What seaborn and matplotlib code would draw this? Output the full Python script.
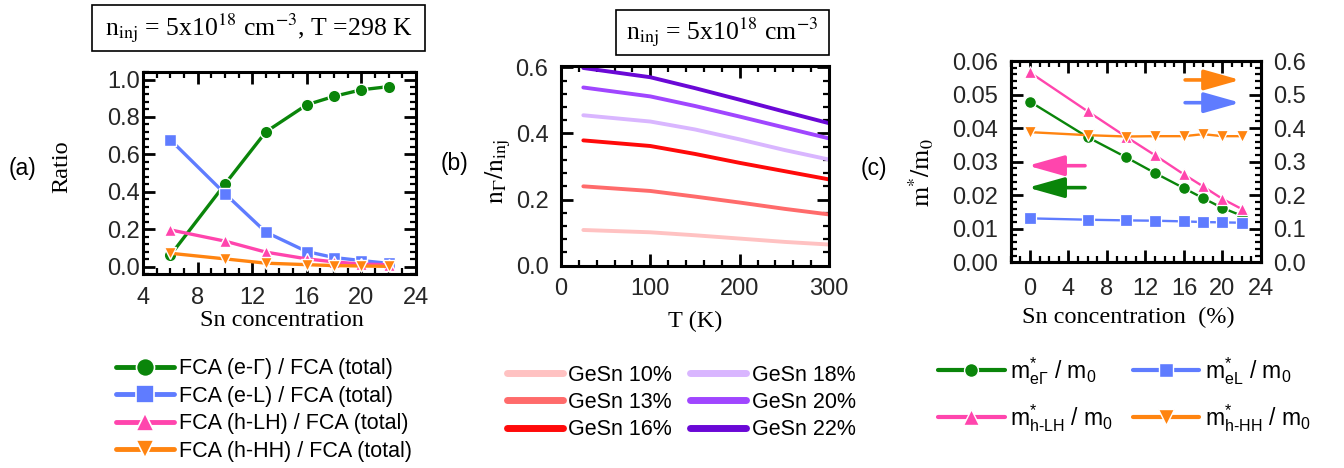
import numpy as np
import pandas as pd
import matplotlib
matplotlib.use("Agg")
import matplotlib.pyplot as plt
from matplotlib.lines import Line2D
from matplotlib.patches import Rectangle
from matplotlib.ticker import MultipleLocator, FormatStrFormatter
import seaborn as sns

# ---------------- data: panel (a) ----------------
sn_a = [6, 10, 13, 16, 18, 20, 22]
fca_eG = [0.060, 0.440, 0.720, 0.865, 0.910, 0.945, 0.962]
fca_eL = [0.678, 0.390, 0.184, 0.080, 0.048, 0.032, 0.017]
fca_hLH = [0.196, 0.136, 0.077, 0.041, 0.025, 0.013, 0.010]
fca_hHH = [0.071, 0.041, 0.018, 0.010, 0.005, 0.003, 0.001]
labels_a = ["FCA (e-Γ) / FCA (total)", "FCA (e-L) / FCA (total)",
            "FCA (h-LH) / FCA (total)", "FCA (h-HH) / FCA (total)"]

# ---------------- data: panel (b) ----------------
temps = [25, 100, 150, 200, 250, 300]
gesn_10 = [0.108, 0.101, 0.092, 0.082, 0.072, 0.064]
gesn_13 = [0.240, 0.226, 0.209, 0.191, 0.172, 0.155]
gesn_16 = [0.379, 0.362, 0.338, 0.311, 0.286, 0.261]
gesn_18 = [0.455, 0.436, 0.412, 0.382, 0.350, 0.321]
gesn_20 = [0.539, 0.512, 0.483, 0.451, 0.418, 0.385]
gesn_22 = [0.598, 0.570, 0.537, 0.502, 0.466, 0.431]
labels_b = ["GeSn 10%", "GeSn 13%", "GeSn 16%", "GeSn 18%", "GeSn 20%", "GeSn 22%"]

# ---------------- data: panel (c) ----------------
sn_c = [0, 6, 10, 13, 16, 18, 20, 22]
m_eG = [0.0479, 0.0373, 0.0313, 0.0266, 0.0221, 0.0191, 0.0162, 0.0139]
m_hLH = [0.0566, 0.0450, 0.0374, 0.0319, 0.0262, 0.0226, 0.0189, 0.0159]
m_eL = [0.131, 0.127, 0.125, 0.124, 0.122, 0.120, 0.119, 0.118]
m_hHH = [0.388, 0.379, 0.375, 0.376, 0.376, 0.382, 0.376, 0.376]
labels_c = [r"m$^{*}_{e\Gamma}$ / m$_{0}$", r"m$^{*}_{h\text{-}LH}$ / m$_{0}$",
            r"m$^{*}_{eL}$ / m$_{0}$", r"m$^{*}_{h\text{-}HH}$ / m$_{0}$"]

# ---------------- style ----------------
sns.set_theme(style="ticks")
plt.rcParams["font.family"] = ["Liberation Sans", "DejaVu Sans"]
plt.rcParams["mathtext.fontset"] = "custom"
plt.rcParams["mathtext.rm"] = "Liberation Sans"
plt.rcParams["mathtext.it"] = "Liberation Sans"
plt.rcParams["mathtext.bf"] = "Liberation Sans:bold"
plt.rcParams["text.color"] = "black"
plt.rcParams["axes.labelcolor"] = "black"
plt.rcParams["axes.edgecolor"] = "black"

GREEN = "#0a850a"
BLUE = "#5f7cff"
PINK = "#ff45ad"
ORANGE = "#ff8410"
B_COLORS = ["#ffc2c2", "#ff6b6b", "#ff0a0a", "#d9b6ff", "#a046ff", "#6a08d6"]

SERIF = "Liberation Serif"
TICK_FS = 17
LAB_FS = 17.5
LEG_FS = 15.5
TICK_COLOR = "black"

fig = plt.figure(figsize=(13.44, 4.68), dpi=100)
ax_a = fig.add_axes([0.1064, 0.4145, 0.2031, 0.4316])
ax_b = fig.add_axes([0.4174, 0.4323, 0.1994, 0.4274])
ax_c = fig.add_axes([0.7520, 0.4395, 0.1862, 0.4301])


def style_ax(ax, xmaj, xmin, ymaj, ymin, ypad=8, xpad=8, right=True):
    ax.xaxis.set_major_locator(MultipleLocator(xmaj))
    ax.xaxis.set_minor_locator(MultipleLocator(xmin))
    ax.yaxis.set_major_locator(MultipleLocator(ymaj))
    ax.yaxis.set_minor_locator(MultipleLocator(ymin))
    ax.tick_params(which="both", direction="in", bottom=True, top=True, left=True,
                   right=right, labelsize=TICK_FS, color=TICK_COLOR)
    ax.tick_params(which="major", length=8.5, width=2)
    ax.tick_params(which="minor", length=4.5, width=1.6)
    ax.tick_params(axis="y", which="major", pad=ypad)
    ax.tick_params(axis="x", which="major", pad=xpad)
    for s in ax.spines.values():
        s.set_linewidth(2.2)
        s.set_color("black")


# ---------------- panel (a) ----------------
series_a = [fca_eG, fca_eL, fca_hLH, fca_hHH]
colors_a = [GREEN, BLUE, PINK, ORANGE]
markers_a = ["o", "s", "^", "v"]
for vals, col, mk in zip(series_a, colors_a, markers_a):
    sns.lineplot(x=sn_a, y=vals, ax=ax_a, color=col, marker=mk, markersize=9,
                 markeredgecolor="white", markeredgewidth=1.0, linewidth=2.4)
ax_a.set_xlim(4, 24)
ax_a.set_ylim(-0.04, 1.04)
style_ax(ax_a, 4, 1, 0.2, 0.04, ypad=2, xpad=9)
ax_a.yaxis.set_major_formatter(FormatStrFormatter("%.1f"))
ax_a.set_xlabel("Sn concentration", fontfamily=SERIF, fontsize=LAB_FS, va="center")
ax_a.xaxis.set_label_coords(0.508, -0.228)
ax_a.set_ylabel("Ratio", fontfamily=SERIF, fontsize=LAB_FS, va="center")
ax_a.yaxis.set_label_coords(-0.297, 0.53)

handles_a = [Line2D([], [], color=c, marker=m, markersize=13, markeredgecolor="white",
                    markeredgewidth=1.2, linewidth=3.5, solid_capstyle="round")
             for c, m in zip(colors_a, markers_a)]
fig.legend(handles_a, labels_a, loc="upper left", bbox_to_anchor=(0.086, 0.234),
           bbox_transform=fig.transFigure, frameon=False, fontsize=LEG_FS,
           handlelength=2.7, handletextpad=0.25, labelspacing=0.3,
           borderpad=0, borderaxespad=0)

# ---------------- panel (b) ----------------
df_b = pd.DataFrame({
    "T": temps * 6,
    "ratio": gesn_10 + gesn_13 + gesn_16 + gesn_18 + gesn_20 + gesn_22,
    "alloy": sum([[lab] * len(temps) for lab in labels_b], []),
})
sns.lineplot(data=df_b, x="T", y="ratio", hue="alloy", hue_order=labels_b,
             palette=dict(zip(labels_b, B_COLORS)), linewidth=2.8, legend=False, ax=ax_b)
ax_b.set_xlim(0, 300)
ax_b.set_ylim(0, 0.605)
style_ax(ax_b, 100, 20, 0.2, 0.04, ypad=9, xpad=9)
ax_b.yaxis.set_major_formatter(FormatStrFormatter("%.1f"))
ax_b.set_xlabel("T (K)", fontfamily=SERIF, fontsize=LAB_FS, va="center")
ax_b.xaxis.set_label_coords(0.50, -0.28)
ax_b.set_ylabel(r"$\mathrm{n_{\Gamma}/n_{inj}}$", fontfamily=SERIF, fontsize=LAB_FS + 1,
                va="center", math_fontfamily="stix")
ax_b.yaxis.set_label_coords(-0.235, 0.47)

handles_b = [Line2D([], [], color=c, linewidth=5, solid_capstyle="round") for c in B_COLORS]
fig.legend(handles_b, labels_b, loc="upper left", bbox_to_anchor=(0.377, 0.221),
           bbox_transform=fig.transFigure, frameon=False, fontsize=LEG_FS, ncol=2,
           handlelength=2.6, handletextpad=0.25, labelspacing=0.3, columnspacing=0.85,
           borderpad=0, borderaxespad=0)

# ---------------- panel (c) ----------------
ax_c2 = ax_c.twinx()
sns.lineplot(x=sn_c, y=m_eG, ax=ax_c, color=GREEN, marker="o", markersize=8.5,
             markeredgecolor="white", markeredgewidth=0.9, linewidth=1.7)
sns.lineplot(x=sn_c, y=m_hLH, ax=ax_c, color=PINK, marker="^", markersize=9,
             markeredgecolor="white", markeredgewidth=0.9, linewidth=1.7)
sns.lineplot(x=sn_c, y=m_eL, ax=ax_c2, color=BLUE, marker="s", markersize=8,
             markeredgecolor="white", markeredgewidth=0.9, linewidth=1.7)
sns.lineplot(x=sn_c, y=m_hHH, ax=ax_c2, color=ORANGE, marker="v", markersize=9,
             markeredgecolor="white", markeredgewidth=0.9, linewidth=1.7)
ax_c.set_xlim(-2, 24)
ax_c.set_ylim(0, 0.06)
ax_c2.set_ylim(0, 0.6)
style_ax(ax_c, 4, 1, 0.01, 0.002, ypad=9, xpad=11, right=False)
ax_c.tick_params(which="both", right=False, labelright=False)
ax_c.yaxis.set_major_formatter(FormatStrFormatter("%.2f"))
ax_c2.yaxis.set_major_locator(MultipleLocator(0.1))
ax_c2.yaxis.set_minor_locator(MultipleLocator(0.02))
ax_c2.tick_params(axis="y", which="both", direction="in", right=True, left=False,
                  labelright=True, labelleft=False, labelsize=TICK_FS, color=TICK_COLOR)
ax_c2.tick_params(axis="y", which="major", length=8.5, width=2, pad=9)
ax_c2.tick_params(axis="y", which="minor", length=4.5, width=1.6)
ax_c2.yaxis.set_major_formatter(FormatStrFormatter("%.1f"))
for s in ax_c2.spines.values():
    s.set_linewidth(2.2)
    s.set_color("black")
ax_c.set_xlabel("Sn concentration  (%)", fontfamily=SERIF, fontsize=LAB_FS, va="center")
ax_c.xaxis.set_label_coords(0.47, -0.272)
ax_c.set_ylabel(r"$\mathrm{m^{*}/m_{0}}$", fontfamily=SERIF, fontsize=LAB_FS + 1,
                va="center", math_fontfamily="stix")
ax_c.yaxis.set_label_coords(-0.356, 0.444)

arrow_specs = [((0.069, 0.480), (0.297, 0.480), PINK),
               ((0.069, 0.371), (0.297, 0.371), GREEN),
               ((0.917, 0.906), (0.697, 0.906), ORANGE),
               ((0.917, 0.793), (0.697, 0.793), BLUE)]
for tip, tail, col in arrow_specs:
    ax_c2.annotate("", xy=tip, xytext=tail, xycoords="axes fraction",
                   textcoords="axes fraction",
                   arrowprops=dict(arrowstyle="-|>,head_length=2.2,head_width=0.62",
                                   color=col, lw=2.6, mutation_scale=10,
                                   shrinkA=0, shrinkB=0))

handles_c = [Line2D([], [], color=GREEN, marker="o", markersize=10, markeredgecolor="white",
                    markeredgewidth=1, linewidth=3, solid_capstyle="round"),
             Line2D([], [], color=PINK, marker="^", markersize=11, markeredgecolor="white",
                    markeredgewidth=1, linewidth=3, solid_capstyle="round"),
             Line2D([], [], color=BLUE, marker="s", markersize=10, markeredgecolor="white",
                    markeredgewidth=1, linewidth=3, solid_capstyle="round"),
             Line2D([], [], color=ORANGE, marker="v", markersize=11, markeredgecolor="white",
                    markeredgewidth=1, linewidth=3, solid_capstyle="round")]
fig.legend(handles_c, labels_c, loc="upper left", bbox_to_anchor=(0.698, 0.241),
           bbox_transform=fig.transFigure, frameon=False, fontsize=LEG_FS + 1, ncol=2,
           handlelength=2.9, handletextpad=0.25, labelspacing=0.65, columnspacing=0.85,
           borderpad=0, borderaxespad=0)

# ---------------- title boxes & panel labels ----------------
fig.patches.append(Rectangle((0.0685, 0.891), 0.2478, 0.0983, transform=fig.transFigure,
                             fill=False, edgecolor="black", linewidth=1.2))
fig.text(0.1923, 0.940, r"n$_\mathrm{inj}$ = 5x10$^{18}$ cm$^{-3}$, T =298 K",
         fontfamily=SERIF, math_fontfamily="stix", fontsize=18.5, ha="center", va="center")
fig.patches.append(Rectangle((0.4581, 0.8825), 0.1587, 0.0962, transform=fig.transFigure,
                             fill=False, edgecolor="black", linewidth=1.2))
fig.text(0.5374, 0.9306, r"n$_\mathrm{inj}$ = 5x10$^{18}$ cm$^{-3}$",
         fontfamily=SERIF, math_fontfamily="stix", fontsize=18.5, ha="center", va="center")

for xy, lab in [((0.0167, 0.641), "(a)"), ((0.3385, 0.6496), "(b)"), ((0.650, 0.641), "(c)")]:
    fig.text(xy[0], xy[1], lab, fontsize=16.5, ha="center", va="center")

fig.savefig("out.png", dpi=100)
